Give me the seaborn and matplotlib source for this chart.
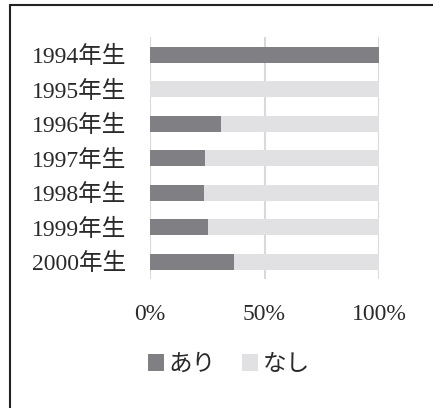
import matplotlib
matplotlib.use("Agg")
import matplotlib.pyplot as plt
import seaborn as sns
import pandas as pd
from matplotlib.patches import Rectangle

categories = ["1994年生", "1995年生", "1996年生", "1997年生", "1998年生", "1999年生", "2000年生"]
ari = [100.0, 0.0, 30.9, 24.0, 23.6, 25.3, 36.7]
nashi = [100.0 - v for v in ari]
tick_values = [0, 50, 100]
tick_labels = ["0%", "50%", "100%"]
legend_labels = ["あり", "なし"]

sns.set_theme(style="white")
plt.rcParams['font.family'] = ['Liberation Serif', 'Noto Sans CJK JP', 'DejaVu Sans']

dark = "#808084"
light = "#e1e1e3"
text_color = "#2a2a2a"
fs = 17

df = pd.DataFrame({"cat": categories, "ari": ari, "nashi": nashi})
df["total"] = df["ari"] + df["nashi"]

fig = plt.figure(figsize=(4.33, 4.08), dpi=100)
ax = fig.add_axes([150/433, 1-279/408, 229/433, (279-37)/408])

sns.barplot(data=df, x="total", y="cat", orient="h", color=light, width=0.46,
            saturation=1, ax=ax, label=legend_labels[1], zorder=3, linewidth=0)
sns.barplot(data=df, x="ari", y="cat", orient="h", color=dark, width=0.46,
            saturation=1, ax=ax, label=legend_labels[0], zorder=3, linewidth=0)

ax.set_xlim(0, 100)
ax.set_ylim(6.5, -0.52)
ax.set_xticks(tick_values)
ax.set_xticklabels(tick_labels, fontsize=fs, color=text_color)
ax.tick_params(axis='y', labelsize=fs, labelcolor=text_color, length=0, pad=17)
ax.tick_params(axis='x', length=0, pad=18)
ax.set_xlabel("")
ax.set_ylabel("")
for s in ax.spines.values():
    s.set_visible(False)
ax.xaxis.grid(True, color="#d9d9d9", linewidth=1.5, zorder=0)
ax.set_axisbelow(True)

handles, labels = ax.get_legend_handles_labels()
order = [labels.index(l) for l in legend_labels]
leg = fig.legend([handles[i] for i in order], [labels[i] for i in order],
                 loc="center", bbox_to_anchor=(229/433, 1-365/408), ncol=2,
                 frameon=False, fontsize=fs, handlelength=0.68, handleheight=0.68,
                 handletextpad=0.2, columnspacing=1.1, labelcolor=text_color)
if ax.get_legend() is not None:
    ax.get_legend().remove()

fig.patches.append(Rectangle((10/433, -0.1), 1.2, 1 - 5/408 + 0.1, transform=fig.transFigure,
                             fill=False, edgecolor="#222222", linewidth=1.5, zorder=10))

fig.savefig("out.png", dpi=100)
